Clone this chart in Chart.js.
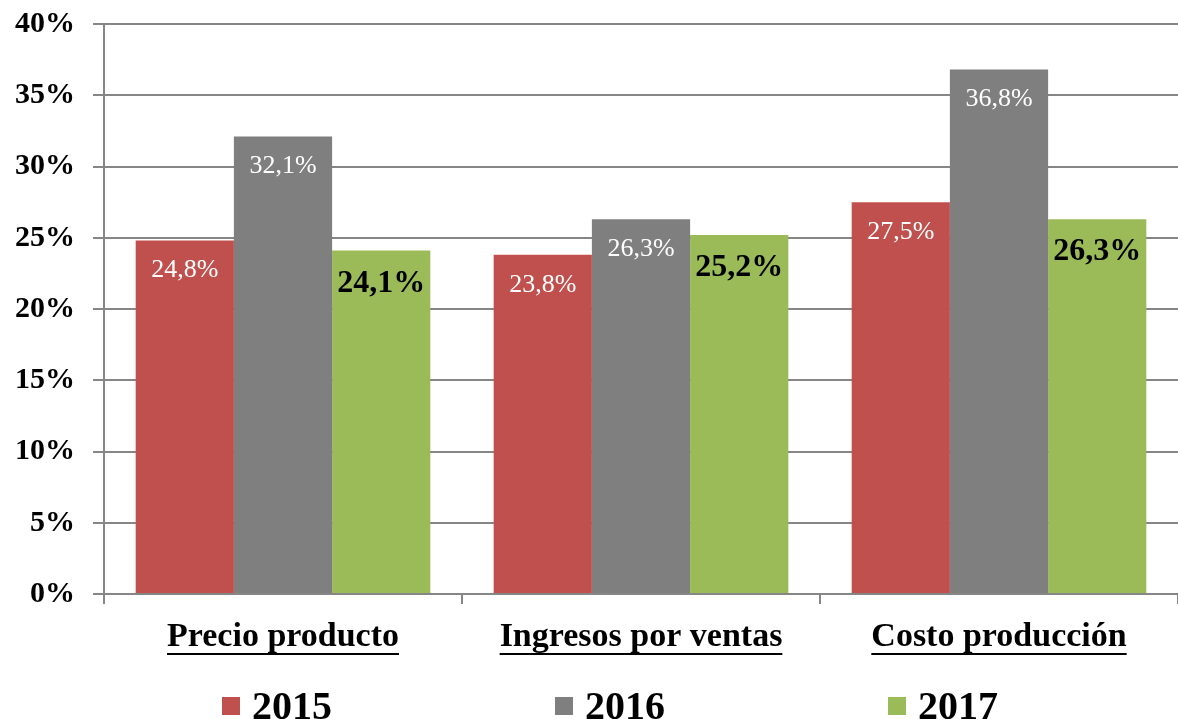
<!DOCTYPE html>
<html lang="es">
<head>
    <meta charset="UTF-8">
    <title>Variación por año</title>
    <script src="https://cdn.jsdelivr.net/npm/chart.js"></script>
    <style>
        html, body { margin: 0; padding: 0; background: #fff; }
        #wrap { width: 1178px; height: 719px; }
    </style>
</head>
<body>
    <div id="wrap"><canvas id="chart"></canvas></div>

    <script>
        // Data
        var categories = ['Precio producto', 'Ingresos por ventas', 'Costo producción'];
        var years = ['2015', '2016', '2017'];
        var values2015 = [24.8, 23.8, 27.5];
        var values2016 = [32.1, 26.3, 36.8];
        var values2017 = [24.1, 25.2, 26.3];
        var yTicks = [0, 5, 10, 15, 20, 25, 30, 35, 40];

        var colors = ['#C0504D', '#7F7F7F', '#9BBB59'];
        var serif = "'Liberation Serif', 'Times New Roman', serif";

        // labels inside bars, x labels underlined, legend at bottom
        var drawExtras = {
            id: 'drawExtras',
            afterDatasetsDraw: function(chart) {
                var ctx = chart.ctx;
                ctx.save();
                ctx.textAlign = 'center';
                ctx.textBaseline = 'middle';
                chart.data.datasets.forEach(function(ds, i) {
                    var meta = chart.getDatasetMeta(i);
                    var bold = i === 2;
                    ctx.font = bold ? 'bold 32px ' + serif : '26px ' + serif;
                    ctx.fillStyle = bold ? '#000' : '#fff';
                    meta.data.forEach(function(bar, j) {
                        var txt = ds.data[j].toFixed(1).replace('.', ',') + '%';
                        ctx.fillText(txt, bar.x, bar.y + (bold ? 33 : 30));
                    });
                });

                // category labels
                var xs = chart.scales.x;
                ctx.font = 'bold 34px ' + serif;
                ctx.fillStyle = '#000';
                ctx.strokeStyle = '#000';
                ctx.lineWidth = 2;
                categories.forEach(function(c, j) {
                    var cx = xs.getPixelForValue(j);
                    ctx.fillText(c, cx, 637);
                    var w = ctx.measureText(c).width;
                    ctx.beginPath();
                    ctx.moveTo(cx - w / 2, 654);
                    ctx.lineTo(cx + w / 2, 654);
                    ctx.stroke();
                });

                // legend
                ctx.font = 'bold 40px ' + serif;
                ctx.textAlign = 'left';
                var legendX = [222, 555, 888];
                years.forEach(function(y, i) {
                    ctx.fillStyle = colors[i];
                    ctx.fillRect(legendX[i], 697, 18, 18);
                    ctx.fillStyle = '#000';
                    ctx.fillText(y, legendX[i] + 30, 709);
                });
                ctx.restore();
            }
        };

        var ctx = document.getElementById('chart').getContext('2d');
        new Chart(ctx, {
            type: 'bar',
            data: {
                labels: categories,
                datasets: [
                    { label: years[0], data: values2015, backgroundColor: colors[0] },
                    { label: years[1], data: values2016, backgroundColor: colors[1] },
                    { label: years[2], data: values2017, backgroundColor: colors[2] }
                ]
            },
            options: {
                responsive: true,
                maintainAspectRatio: false,
                animation: false,
                layout: { padding: { top: 24, right: 0, left: 0, bottom: 0 } },
                categoryPercentage: 0.823,
                barPercentage: 1.0,
                scales: {
                    x: {
                        grid: {
                            display: true,
                            drawOnChartArea: false,
                            color: '#868686',
                            lineWidth: 2,
                            tickLength: 10,
                            offset: true
                        },
                        border: { color: '#868686', width: 2 },
                        ticks: { display: false },
                        afterFit: function(scale) { scale.height = 125; }
                    },
                    y: {
                        min: 0,
                        max: 40,
                        afterBuildTicks: function(scale) {
                            scale.ticks = yTicks.map(function(v) { return { value: v }; });
                        },
                        grid: { color: '#868686', lineWidth: 2, tickLength: 11 },
                        border: { color: '#868686', width: 2 },
                        ticks: {
                            padding: 18,
                            color: '#000',
                            font: { family: serif, size: 30, weight: 'bold' },
                            callback: function(v) { return v + '%'; }
                        },
                        afterFit: function(scale) {
                            scale.width = 104;
                            scale.paddingTop = 0;
                            scale.paddingBottom = 0;
                        }
                    }
                },
                plugins: {
                    legend: { display: false },
                    tooltip: { enabled: false }
                }
            },
            plugins: [drawExtras]
        });
    </script>
</body>
</html>
